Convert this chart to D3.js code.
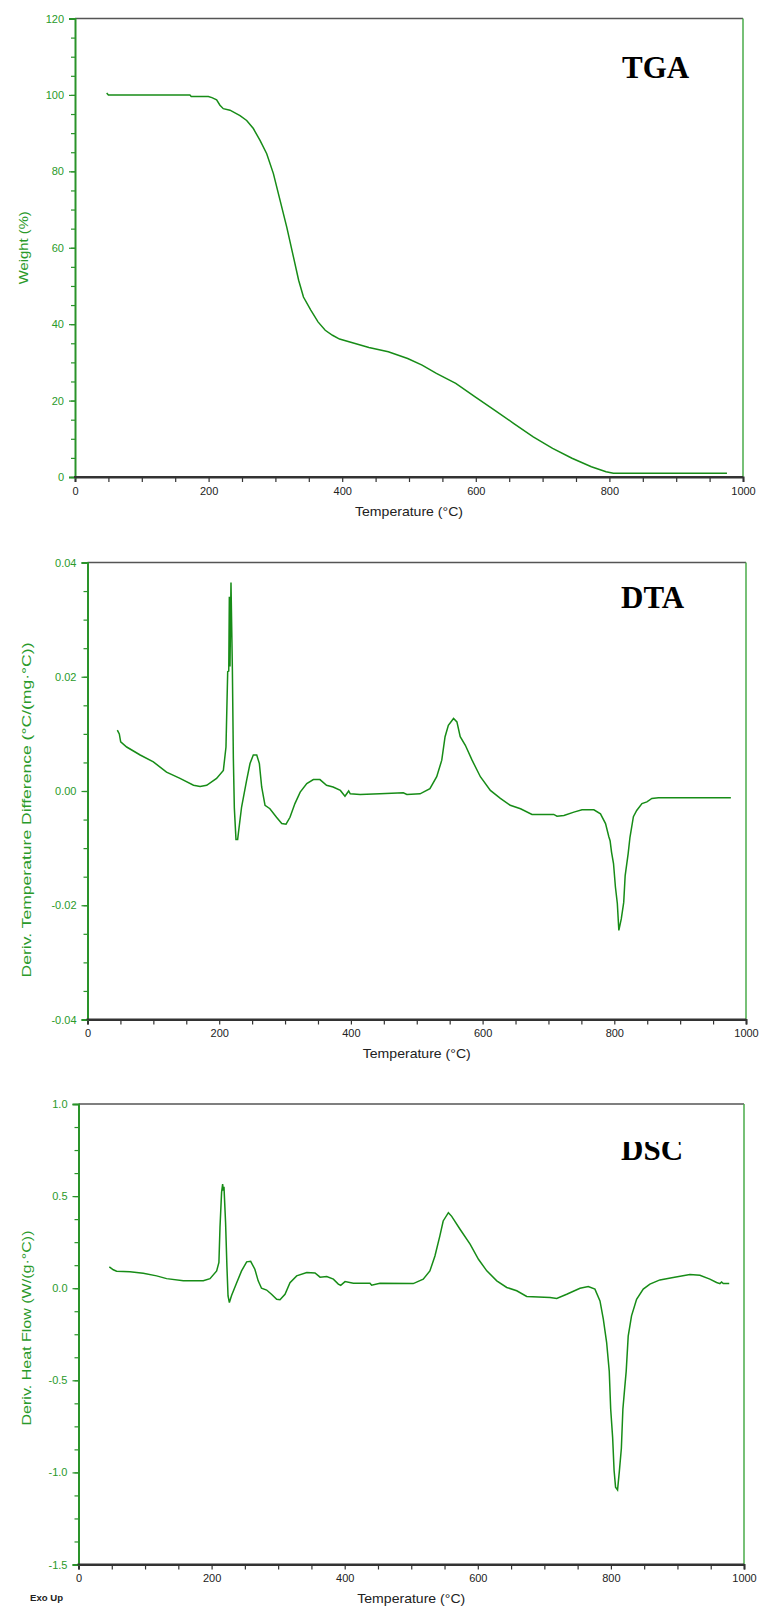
<!DOCTYPE html>
<html>
<head>
<meta charset="utf-8">
<script src="https://cdn.jsdelivr.net/npm/d3@7/dist/d3.min.js"></script>
<style>
  body { margin: 0; background: #ffffff; }
  svg { display: block; }
  text { font-family: "Liberation Sans", Arial, sans-serif; }
</style>
</head>
<body>
<svg id="chart" width="761" height="1608"></svg>
<script>
// ---------- data: thermal analysis of the sample, 45–980 °C ----------

// TGA: weight (%) vs temperature (°C)
const tgaTemp = [47.4, 50, 172, 174, 199.6, 205, 212, 217, 222, 232, 247, 257, 267, 277, 287, 297, 307, 317, 327,
  334.8, 342, 353, 363.8, 374.6, 385.5, 396, 418, 440, 469, 498, 519.6, 541, 570, 599, 628, 657, 686, 715, 744,
  773, 795, 806, 976];
const tgaWeight = [100.5, 100.0, 100.0, 99.6, 99.6, 99.3, 98.7, 97.3, 96.4, 96.0, 94.6, 93.3, 91.2, 88.1, 84.6, 79.4,
  72.4, 65.4, 57.6, 51.5, 47.1, 43.7, 40.6, 38.4, 37.1, 36.1, 35.0, 33.9, 32.8, 31.0, 29.3, 27.1, 24.5, 21.0, 17.5,
  14.0, 10.5, 7.5, 4.9, 2.7, 1.4, 1.0, 1.0];

// DTA: derivative of temperature difference vs temperature
const dtaTemp = [45.3, 48.3, 50.4, 59.5, 80, 100, 120, 140.5, 161, 171, 181, 196, 206.3, 210.3, 212.9, 214.5, 215.4,
  216.4, 217.9, 220, 221.5, 223, 225.5, 228, 229, 234, 241.7, 246.8, 251.8, 257, 261, 264.5, 269.6, 277, 287, 295,
  301.5, 307.5, 315, 323, 333, 343, 353, 363, 373, 384, 391, 396.6, 399, 414, 444, 479.6, 485, 505, 520, 530.3, 538,
  543, 548, 555.9, 561, 566, 573.8, 584, 596.6, 611.8, 627, 642, 657.6, 675, 708, 713, 723.5, 738.6, 751, 769, 779,
  786.7, 791.7, 793.6, 795.8, 798.8, 801.7, 804.6, 806.9, 810.6, 814.3, 816.5, 821, 823.8, 829, 834, 842, 849.5, 857,
  867, 977];
const dtaDeriv = [0.01065, 0.0100, 0.0086, 0.0077, 0.0063, 0.0051, 0.0033, 0.0022, 0.0010, 0.0008, 0.0010, 0.0022,
  0.0036, 0.0077, 0.0209, 0.0210, 0.0340, 0.0218, 0.0365, 0.0215, 0.0057, -0.0030, -0.0085, -0.0085, -0.0075,
  -0.0028, 0.0019, 0.0048, 0.0063, 0.0063, 0.0048, 0.0007, -0.0025, -0.0031, -0.0046, -0.0057, -0.0058, -0.0046,
  -0.0022, -0.0002, 0.0013, 0.0020, 0.0020, 0.0010, 0.0007, 0.0001, -0.0009, 0.0000, -0.0005, -0.0006, -0.0005,
  -0.0003, -0.0006, -0.0005, 0.0004, 0.0025, 0.0054, 0.0095, 0.0115, 0.0127, 0.0121, 0.0095, 0.0080, 0.0054, 0.0025,
  0.0001, -0.0013, -0.0025, -0.0031, -0.0041, -0.0041, -0.0044, -0.0043, -0.0037, -0.0033, -0.0033, -0.0040,
  -0.0057, -0.0080, -0.0087, -0.0107, -0.0127, -0.0168, -0.0197, -0.0244, -0.0224, -0.0195, -0.0148, -0.0110,
  -0.0081, -0.0045, -0.0034, -0.0022, -0.0019, -0.0013, -0.0012, -0.0012];

// DSC: derivative heat flow vs temperature
const dscTemp = [46.3, 52.3, 57.3, 77.3, 97.3, 117.4, 132.4, 157.5, 187.5, 197.6, 207.6, 211, 212.6, 215, 216.6, 217.6,
  218.6, 221, 223, 224.7, 226.7, 230, 237.7, 245, 252.7, 258.7, 265, 270, 275, 282.7, 290, 297.8, 302.8, 310.3, 317.8,
  327.8, 343, 355.4, 363, 373, 383, 390.4, 394, 400.5, 413, 438, 440.5, 453, 503, 518, 528, 535.6, 543, 548, 555.8,
  560.8, 573.3, 588.4, 601, 613.5, 628.5, 643.5, 658.5, 673.5, 708.6, 718.6, 733.6, 753.6, 766, 776, 783.6, 788.6,
  793.6, 797.5, 799.7, 802.6, 804.8, 807, 810, 812.8, 815.7, 818, 820.8, 823, 826, 831, 838.6, 848.6, 858.6, 873.6,
  893.6, 918.7, 933.7, 948.7, 958.8, 963.8, 966.3, 968.8, 977.8];
const dscHeatFlow = [0.116, 0.100, 0.092, 0.089, 0.081, 0.067, 0.052, 0.040, 0.040, 0.052, 0.094, 0.140, 0.330, 0.520,
  0.565, 0.530, 0.550, 0.356, 0.120, -0.042, -0.078, -0.040, 0.030, 0.094, 0.143, 0.146, 0.103, 0.040, 0.000, -0.010,
  -0.033, -0.060, -0.063, -0.033, 0.030, 0.067, 0.085, 0.083, 0.060, 0.063, 0.049, 0.022, 0.016, 0.036, 0.027, 0.027,
  0.016, 0.027, 0.025, 0.049, 0.094, 0.175, 0.284, 0.365, 0.410, 0.390, 0.320, 0.239, 0.157, 0.094, 0.040, 0.004,
  -0.014, -0.045, -0.050, -0.056, -0.033, 0.000, 0.009, -0.005, -0.069, -0.168, -0.295, -0.450, -0.657, -0.810,
  -0.990, -1.080, -1.095, -0.990, -0.870, -0.657, -0.540, -0.450, -0.260, -0.150, -0.060, -0.005, 0.022, 0.045,
  0.058, 0.074, 0.070, 0.049, 0.031, 0.025, 0.034, 0.025, 0.025];

// axis ticks and labels
const tempTicks = [0, 200, 400, 600, 800, 1000];
const tempTickLabels = ["0", "200", "400", "600", "800", "1000"];
const tgaTicks = [0, 20, 40, 60, 80, 100, 120];
const tgaTickLabels = ["0", "20", "40", "60", "80", "100", "120"];
const dtaTicks = [-0.04, -0.02, 0, 0.02, 0.04];
const dtaTickLabels = ["-0.04", "-0.02", "0.00", "0.02", "0.04"];
const dscTicks = [-1.5, -1.0, -0.5, 0, 0.5, 1.0];
const dscTickLabels = ["-1.5", "-1.0", "-0.5", "0.0", "0.5", "1.0"];

// ---------- styling ----------
const curveColor = "#178c17";
const yTextColor = "#2a9a2a";
const leftAxisColor = "#2a932a";
const rightBorderColor = "#4aab4a";
const darkLine = "#333333";

const svg = d3.select("#chart");

const panels = [
  {
    temp: tgaTemp, val: tgaWeight, yDomain: [0, 120], ticks: tgaTicks, tickLabels: tgaTickLabels, minorStep: 5,
    box: { left: 75, right: 743, top: 18.5, bottom: 477 },
    yLabel: "Weight (%)", yLabelX: 28, yLabelY: 247.75, yLabelLen: 73,
    title: "TGA", titleX: 622, titleY: 78
  },
  {
    temp: dtaTemp, val: dtaDeriv, yDomain: [-0.04, 0.04], ticks: dtaTicks, tickLabels: dtaTickLabels, minorStep: 0.005,
    box: { left: 87.5, right: 746, top: 562.5, bottom: 1019.5 },
    yLabel: "Deriv. Temperature Difference (°C/(mg·°C))", yLabelX: 31, yLabelY: 810, yLabelLen: 335,
    title: "DTA", titleX: 621, titleY: 608
  },
  {
    temp: dscTemp, val: dscHeatFlow, yDomain: [-1.5, 1.0], ticks: dscTicks, tickLabels: dscTickLabels, minorStep: 0.125,
    box: { left: 78.5, right: 744, top: 1104, bottom: 1564.5 },
    yLabel: "Deriv. Heat Flow (W/(g·°C))", yLabelX: 31, yLabelY: 1328, yLabelLen: 195,
    title: "DSC", titleX: 621, titleY: 1160, clipTitleTop: 1142,
    note: "Exo Up"
  }
];

panels.forEach((p, i) => {
  const b = p.box;
  const x = d3.scaleLinear().domain([0, 1000]).range([b.left, b.right]);
  const y = d3.scaleLinear().domain(p.yDomain).range([b.bottom, b.top]);
  const g = svg.append("g");

  // frame: dark top edge, green right edge
  g.append("line").attr("x1", b.left).attr("x2", b.right).attr("y1", b.top).attr("y2", b.top)
    .attr("stroke", "#555").attr("stroke-width", 1.6);
  g.append("line").attr("x1", b.right).attr("x2", b.right).attr("y1", b.top).attr("y2", b.bottom)
    .attr("stroke", rightBorderColor).attr("stroke-width", 1.5);

  // data curve
  const line = d3.line().x(d => x(d[0])).y(d => y(d[1]));
  g.append("path")
    .datum(d3.zip(p.temp, p.val))
    .attr("d", line)
    .attr("fill", "none")
    .attr("stroke", curveColor)
    .attr("stroke-width", 1.5)
    .attr("stroke-linejoin", "miter");

  // temperature axis: ticks every 50 °C, labels every 200 °C
  const xAxis = d3.axisBottom(x)
    .tickValues(d3.range(0, 1001, 50))
    .tickSize(5)
    .tickPadding(5)
    .tickFormat(d => { const k = tempTicks.indexOf(d); return k >= 0 ? tempTickLabels[k] : ""; });
  const gx = g.append("g").attr("transform", `translate(0,${b.bottom})`).call(xAxis);
  gx.select(".domain").attr("stroke", darkLine).attr("stroke-width", 2);
  gx.selectAll(".tick line").attr("stroke", darkLine).attr("stroke-width", 1.2);
  gx.selectAll(".tick text").attr("fill", "#222").style("font-size", "11px");

  // vertical axis: minor then major ticks
  const minors = d3.range(p.yDomain[0], p.yDomain[1] + p.minorStep / 2, p.minorStep);
  const gyMinor = g.append("g").attr("transform", `translate(${b.left},0)`)
    .call(d3.axisLeft(y).tickValues(minors).tickSize(4).tickFormat(""));
  gyMinor.select(".domain").remove();
  gyMinor.selectAll(".tick line").attr("stroke", leftAxisColor).attr("stroke-width", 1.2);

  const yAxis = d3.axisLeft(y)
    .tickValues(p.ticks)
    .tickSize(6)
    .tickPadding(5)
    .tickFormat((d, k) => p.tickLabels[k]);
  const gy = g.append("g").attr("transform", `translate(${b.left},0)`).call(yAxis);
  gy.select(".domain").attr("stroke", leftAxisColor).attr("stroke-width", 2);
  gy.selectAll(".tick line").attr("stroke", leftAxisColor).attr("stroke-width", 1.2);
  gy.selectAll(".tick text").attr("fill", yTextColor).style("font-size", "11px");

  // redraw the bottom edge over the vertical axis foot
  g.append("line").attr("x1", b.left - 1).attr("x2", b.right).attr("y1", b.bottom).attr("y2", b.bottom)
    .attr("stroke", darkLine).attr("stroke-width", 2);

  // axis titles
  g.append("text")
    .attr("x", (b.left + b.right) / 2)
    .attr("y", b.bottom + 38.5)
    .attr("text-anchor", "middle")
    .attr("textLength", 108)
    .attr("lengthAdjust", "spacingAndGlyphs")
    .attr("fill", "#222")
    .style("font-size", "13px")
    .text("Temperature (°C)");

  g.append("text")
    .attr("transform", `translate(${p.yLabelX},${p.yLabelY}) rotate(-90)`)
    .attr("text-anchor", "middle")
    .attr("textLength", p.yLabelLen)
    .attr("lengthAdjust", "spacingAndGlyphs")
    .attr("fill", yTextColor)
    .style("font-size", "13px")
    .text(p.yLabel);

  // panel title
  let titleParent = g;
  if (p.clipTitleTop) {
    const id = "title-clip-" + i;
    svg.append("defs").append("clipPath").attr("id", id)
      .append("rect").attr("x", p.titleX - 10).attr("y", p.clipTitleTop).attr("width", 120).attr("height", 60);
    titleParent = g.append("g").attr("clip-path", `url(#${id})`);
  }
  titleParent.append("text")
    .attr("x", p.titleX)
    .attr("y", p.titleY)
    .attr("fill", "#000")
    .style("font-family", "'Liberation Serif', 'Times New Roman', serif")
    .style("font-weight", "bold")
    .style("font-size", "31px")
    .text(p.title);

  if (p.note) {
    g.append("text")
      .attr("x", 30)
      .attr("y", b.bottom + 36)
      .attr("textLength", 33)
      .attr("lengthAdjust", "spacingAndGlyphs")
      .attr("fill", "#222")
      .style("font-size", "9px")
      .style("font-weight", "bold")
      .text(p.note);
  }
});
</script>
</body>
</html>
